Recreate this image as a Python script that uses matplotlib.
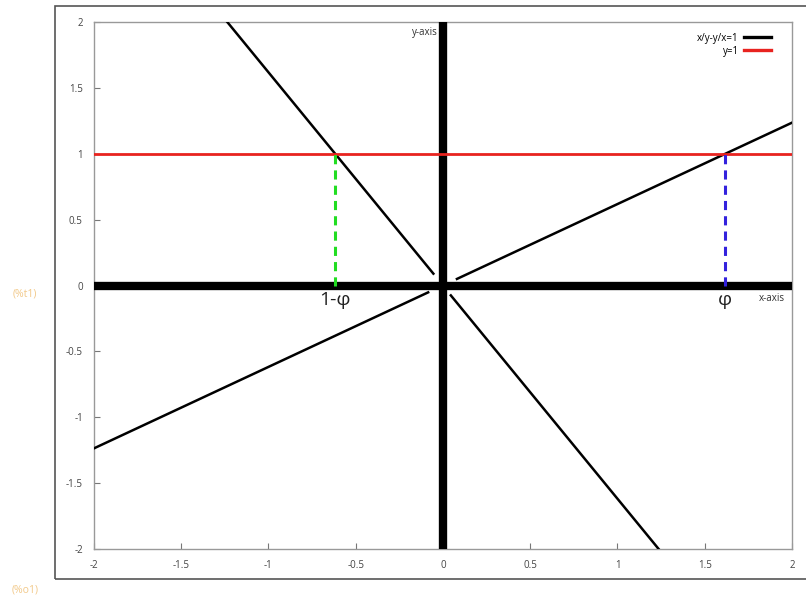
import matplotlib
matplotlib.use('Agg')
import matplotlib.pyplot as plt
from matplotlib.patches import Rectangle
from matplotlib.lines import Line2D

plt.rcParams['font.family'] = ['Open Sans', 'DejaVu Sans']

# x/y - y/x = 1 的四段分支（隐函数画图在原点附近断开）
branch_x = [[-1.236, -0.055], [0.045, 1.236], [0.08, 2.0], [-2.0, -0.085]]
branch_y = [[2.0, 0.09], [-0.075, -2.0], [0.05, 1.236], [-1.236, -0.052]]

phi = 1.618
one_minus_phi = -0.618
ticks = [-2, -1.5, -1, -0.5, 0, 0.5, 1, 1.5, 2]
tick_labels = ['-2', '-1.5', '-1', '-0.5', '0', '0.5', '1', '1.5', '2']

fig = plt.figure(figsize=(8.06, 5.97), dpi=100)
ax = fig.add_axes([0.1166, 0.0804, 0.866, 0.8827])

# 外框和 wxMaxima 标签
fig.patches.append(Rectangle((55 / 806, 18 / 597), 760 / 806, 573 / 597,
                             transform=fig.transFigure, fill=False,
                             edgecolor='#555555', linewidth=1.2))
fig.text(25 / 806, 1 - 294 / 597, '(%t1)', color='#f2c98a', fontsize=7.5,
         ha='center', va='center')
fig.text(25 / 806, 1 - 590 / 597, '(%o1)', color='#f2c98a', fontsize=7.5,
         ha='center', va='center')

# 坐标轴（粗黑线）
ax.plot([-2, 2], [0, 0], color='black', linewidth=6, solid_capstyle='butt', zorder=3)
ax.plot([0, 0], [-2, 2], color='black', linewidth=6, solid_capstyle='butt', zorder=3)

for bx, by in zip(branch_x, branch_y):
    ax.plot(bx, by, color='black', linewidth=1.8, zorder=4)

ax.axhline(1, color='#e8231f', linewidth=2, zorder=4)
ax.plot([one_minus_phi, one_minus_phi], [0, 1], color='#22dd22', linewidth=2.2,
        linestyle=(0, (3, 2)), zorder=5)
ax.plot([phi, phi], [0, 1], color='#3322dd', linewidth=2.2,
        linestyle=(0, (3, 2)), zorder=5)

ax.text(one_minus_phi, -0.045, '1-φ', fontsize=14, ha='center', va='top', color='#222222')
ax.text(phi, -0.045, 'φ', fontsize=14, ha='center', va='top', color='#222222')
ax.text(-0.03, 1.92, 'y-axis', fontsize=7, ha='right', va='center', color='#333333')
ax.text(1.96, -0.095, 'x-axis', fontsize=7, ha='right', va='center', color='#333333')

ax.set_xlim(-2, 2)
ax.set_ylim(-2, 2)
ax.set_xticks(ticks)
ax.set_xticklabels(tick_labels)
ax.set_yticks(ticks)
ax.set_yticklabels(tick_labels)
ax.tick_params(direction='in', length=4, width=0.8, color='#777777',
               labelsize=7, labelcolor='#444444', pad=8)
for s in ax.spines.values():
    s.set_color('#999999')
    s.set_linewidth(1)

handles = [Line2D([], [], color='black', linewidth=2.4),
           Line2D([], [], color='#e8231f', linewidth=2.4)]
ax.legend(handles, ['x/y-y/x=1', 'y=1'], loc='upper right', frameon=False,
          markerfirst=False, fontsize=7, handlelength=2.8, labelspacing=0.2,
          borderaxespad=0.7, handletextpad=0.5, bbox_to_anchor=(0.985, 1.0))

fig.savefig('out.png', dpi=100)
